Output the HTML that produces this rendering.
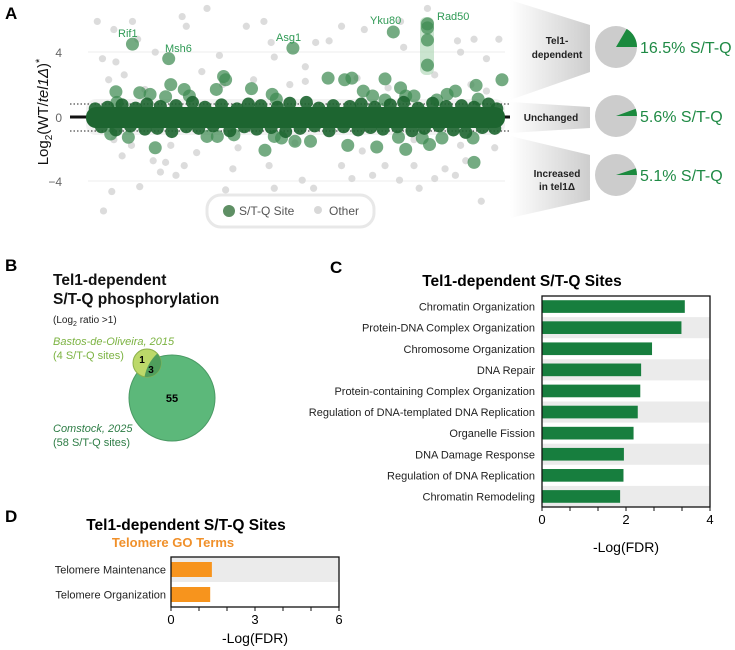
<!DOCTYPE html>
<html><head><meta charset="utf-8"><style>
body{margin:0;background:#fff;}
svg{display:block;font-family:"Liberation Sans",Arial,sans-serif;}
</style></head><body>
<svg id="fig" width="735" height="650" viewBox="0 0 735 650" xmlns="http://www.w3.org/2000/svg">
<defs>
<linearGradient id="fun" x1="0" x2="1" y1="0" y2="0"><stop offset="0" stop-color="#ffffff"/><stop offset="1" stop-color="#cdcdcd"/></linearGradient>
</defs>
<g>
<text x="5" y="19" font-size="17" font-weight="bold">A</text>
<line x1="88" x2="505" y1="52" y2="52" stroke="#eeeeee"/>
<line x1="88" x2="505" y1="181" y2="181" stroke="#eeeeee"/>
<g id="gray"></g>
<rect x="86" y="99" width="419" height="36" rx="10" fill="#e2e2e2" opacity="0.45"/>
<line x1="70" x2="510" y1="104" y2="104" stroke="#222" stroke-dasharray="1.5,2"/>
<line x1="70" x2="510" y1="131" y2="131" stroke="#222" stroke-dasharray="1.5,2"/>
<line x1="70" x2="510" y1="117" y2="117" stroke="#111" stroke-width="3"/>
<rect x="420" y="17" width="14" height="58" rx="6" fill="#a8d4b0" opacity="0.6"/>
<g id="green"></g>
<g id="core"></g>
<rect x="86" y="107" width="419" height="21" rx="10" fill="#1d6530"/>
<g font-size="11" fill="#2f9a55">
<text x="118" y="37">Rif1</text>
<text x="165" y="52">Msh6</text>
<text x="276" y="41">Asg1</text>
<text x="370" y="24">Yku80</text>
<text x="437" y="20">Rad50</text>
</g>
<g font-size="12" fill="#666" text-anchor="end">
<text x="62" y="57">4</text>
<text x="62" y="122">0</text>
<text x="62" y="186">−4</text>
</g>
<text transform="translate(48,112) rotate(-90)" text-anchor="middle" font-size="15" fill="#111">Log<tspan font-size="10" dy="4">2</tspan><tspan dy="-4">(WT/</tspan><tspan font-style="italic">tel1Δ</tspan>)<tspan font-size="11" dy="-5">*</tspan></text>
<rect x="207" y="195" width="167" height="32" rx="14" fill="#fff" stroke="#e8e8e8" stroke-width="3"/>
<circle cx="229" cy="211" r="6" fill="#5e8f64"/>
<text x="239" y="215" font-size="12" fill="#555">S/T-Q Site</text>
<circle cx="318" cy="210" r="4" fill="#d8d8d8"/>
<text x="329" y="215" font-size="12" fill="#555">Other</text>
<polygon points="510,0 590,25 590,72 510,100" fill="url(#fun)"/>
<polygon points="510,102 590,107 590,128 510,133" fill="url(#fun)"/>
<polygon points="510,136 590,155 590,200 510,218" fill="url(#fun)"/>
<g font-size="10" font-weight="bold" fill="#222" text-anchor="middle">
<text x="557" y="44">Tel1-</text>
<text x="557" y="58">dependent</text>
<text x="551" y="121">Unchanged</text>
<text x="557" y="177">Increased</text>
<text x="557" y="190">in tel1Δ</text>
</g>
<g id="pies"></g>
</g>
<g>
<text x="5" y="271" font-size="17" font-weight="bold">B</text>
<text x="53" y="285" font-size="15.5" font-weight="bold" fill="#111">Tel1-dependent</text>
<text x="53" y="304" font-size="15.5" font-weight="bold" fill="#111">S/T-Q phosphorylation</text>
<text x="53" y="323" font-size="10" fill="#222">(Log<tspan font-size="7" dy="3">2</tspan><tspan dy="-3"> ratio &gt;1)</tspan></text>
<text x="53" y="345" font-size="11" font-style="italic" fill="#7cb342">Bastos-de-Oliveira, 2015</text>
<text x="53" y="359" font-size="11" fill="#7cb342">(4 S/T-Q sites)</text>
<circle cx="172" cy="398" r="43" fill="#5cb87a" stroke="#4a9a64"/>
<circle cx="147" cy="363" r="14" fill="#bcd96a" stroke="#8cb04a"/>
<path d="M157.3,353.5 A14,14 0 0 1 144.5,376.8 A43,43 0 0 1 157.3,353.5 Z" fill="#4f9e5c"/>
<text x="142" y="363" font-size="10" font-weight="bold" text-anchor="middle">1</text>
<text x="151" y="373" font-size="10" font-weight="bold" text-anchor="middle">3</text>
<text x="172" y="402" font-size="11" font-weight="bold" text-anchor="middle">55</text>
<text x="53" y="432" font-size="11" font-style="italic" fill="#2e7d46">Comstock, 2025</text>
<text x="53" y="446" font-size="11" fill="#2e7d46">(58 S/T-Q sites)</text>
</g>
<g id="panelC">
<text x="330" y="273" font-size="17" font-weight="bold">C</text>
<text x="522" y="286" font-size="15.5" font-weight="bold" text-anchor="middle">Tel1-dependent S/T-Q Sites</text>
<text x="626" y="552" font-size="14" text-anchor="middle">-Log(FDR)</text>
</g>
<g id="panelD">
<text x="5" y="522" font-size="17" font-weight="bold">D</text>
<text x="186" y="530" font-size="15.5" font-weight="bold" text-anchor="middle">Tel1-dependent S/T-Q Sites</text>
<text x="173" y="547" font-size="13" font-weight="bold" fill="#f0902a" text-anchor="middle">Telomere GO Terms</text>
<text x="255" y="643" font-size="14" text-anchor="middle">-Log(FDR)</text>
</g>
</svg>
<script>
const otherRanks=[94,110,99,112,128,133,150,176,180,200,212,238,255,262,265,295,305,318,330,352,387,390,413,442,445,458,482,470,100,108,127,135,155,160,170,178,190,218,225,260,265,292,303,330,340,360,372,386,400,405,420,430,440,450,465,478,118,148,105,120,140,195,215,245,280,295,345,375,420,455,470,110,165,230,285,350,400,445];
const otherVals=[5.9,5.4,3.6,3.4,5.9,4.8,4.0,6.2,5.6,6.7,3.8,5.6,5.9,4.6,3.7,3.1,4.6,4.7,5.6,5.4,5.9,4.3,6.7,4.7,4.0,4.8,4.8,3.6,-5.8,-4.6,-1.75,-4.3,-3.4,-2.8,-3.6,-3.0,-2.2,-4.5,-3.2,-3.0,-4.4,-3.9,-4.4,-3.0,-3.8,-3.6,-3.0,-3.9,-3.0,-4.4,-3.8,-3.2,-3.6,-2.7,-5.2,-1.9,-2.4,-2.7,2.3,2.6,1.7,2.8,2.0,2.3,2.0,2.2,2.4,1.8,2.6,2.0,1.6,-1.4,-1.75,-1.9,-1.6,-2.1,-1.4,-1.75];
const stqRanks=[128,163,283,380,413,413,413,413,112,113,135,145,160,165,178,183,209,216,218,243,263,267,317,333,340,351,360,372,372,387,392,400,422,432,440,460,485,462,107,124,150,200,210,226,256,265,272,285,300,336,364,385,392,408,415,427,457,458];
const stqVals=[4.5,3.6,4.25,5.25,5.75,5.5,4.75,3.2,1.56,0.9,1.5,1.4,1.25,2.0,1.7,1.3,1.7,2.5,2.3,1.75,1.4,1.1,2.4,2.3,2.4,1.6,1.3,2.35,1.05,1.8,1.3,1.3,1.05,1.4,1.6,1.95,2.3,1.1,-1.05,-1.25,-1.9,-1.2,-1.2,-1.1,-2.05,-1.2,-1.3,-1.5,-1.5,-1.75,-1.85,-1.25,-2.0,-1.3,-1.7,-1.3,-1.3,-2.8];
const coreRanks=[92,104,118,131,142,155,170,186,198,214,229,240,252,268,280,296,308,322,338,349,362,377,390,404,418,431,446,458,472,480,98,112,126,140,152,166,180,192,206,222,236,248,262,276,290,304,318,332,346,358,370,384,398,410,424,438,450,466,478];
const coreVals=[0.5,0.6,0.75,0.55,0.8,0.65,0.7,0.9,0.6,0.75,0.5,0.8,0.7,0.6,0.85,0.9,0.55,0.7,0.65,0.8,0.6,0.75,0.9,0.55,0.85,0.65,0.7,0.6,0.8,0.5,-0.6,-0.8,-0.55,-0.75,-0.7,-0.9,-0.6,-0.7,-0.55,-0.85,-0.6,-0.75,-0.65,-0.9,-0.7,-0.55,-0.85,-0.6,-0.8,-0.65,-0.75,-0.6,-0.85,-0.7,-0.55,-0.8,-0.95,-0.65,-0.7];
const pieLabels=["16.5% S/T-Q","5.6% S/T-Q","5.1% S/T-Q"];
const pieFractions=[0.165,0.056,0.051];
const cCategories=["Chromatin Organization","Protein-DNA Complex Organization","Chromosome Organization","DNA Repair","Protein-containing Complex Organization","Regulation of DNA-templated DNA Replication","Organelle Fission","DNA Damage Response","Regulation of DNA Replication","Chromatin Remodeling"];
const cValues=[3.4,3.32,2.62,2.36,2.34,2.28,2.18,1.95,1.94,1.86];
const cTicks=[0,2,4];
const dCategories=["Telomere Maintenance","Telomere Organization"];
const dValues=[1.46,1.4];
const dTicks=[0,3,6];

const NS="http://www.w3.org/2000/svg";
function mk(tag,attrs,parent){const e=document.createElementNS(NS,tag);for(const k in attrs)e.setAttribute(k,attrs[k]);parent.appendChild(e);return e;}
const ax=r=>r*1.035, ay=v=>117-v*16.2;
const gG=document.getElementById('gray');
otherRanks.forEach((r,i)=>{const c=mk('circle',{cx:ax(r),cy:ay(otherVals[i]),r:3.6,fill:'#d6d6d6',opacity:0.85},gG);

});
const gS=document.getElementById('green');
stqRanks.forEach((r,i)=>{const c=mk('circle',{cx:ax(r),cy:ay(stqVals[i]),r:6.5,fill:'#3f8a52',opacity:0.72},gS);

});
const gC=document.getElementById('core');
coreRanks.forEach((r,i)=>{const c=mk('circle',{cx:ax(r),cy:ay(coreVals[i]),r:6.5,fill:'#1d6530',opacity:0.9},gC);

});
const pG=document.getElementById('pies');
const pieCy=[47,116,175];
pieFractions.forEach((f,i)=>{const cx=616,cy=pieCy[i],R=21;
const c=mk('circle',{cx:cx,cy:cy,r:R,fill:'#cccccc'},pG);


const a=f*2*Math.PI;
const p=mk('path',{d:`M${cx},${cy} L${cx+R},${cy} A${R},${R} 0 0 0 ${cx+R*Math.cos(a)},${cy-R*Math.sin(a)} Z`,fill:'#1b8a3e'},pG);


const t=mk('text',{x:640,y:cy+6,'font-size':16,fill:'#1f8a45'},pG);t.textContent=pieLabels[i];

});

function barChart(g,cats,vals,ticks,x0,x1,y0,y1,max,color,minorStep,labelX,shadeOdd){
 const n=cats.length,rh=(y1-y0)/n,sx=v=>x0+(v/max)*(x1-x0);
 cats.forEach((c,i)=>{const y=y0+i*rh;
  if((i%2===1)===shadeOdd){const s=mk('rect',{x:x0,y:y,width:x1-x0,height:rh,fill:'#ebebeb'},g);
   
   }
  const b=mk('rect',{x:x0,y:y+rh*0.2,width:sx(vals[i])-x0,height:rh*0.6,fill:color},g);
  
  
  const t=mk('text',{x:labelX,y:y+rh/2+4,'font-size':11,'text-anchor':'end',fill:'#222'},g);t.textContent=c;
  
  });
 const f=mk('rect',{x:x0,y:y0,width:x1-x0,height:y1-y0,fill:'none',stroke:'#111','stroke-width':1.3},g);
 
 
 for(let v=0;v<=max+1e-6;v+=minorStep){const l=mk('line',{x1:sx(v),x2:sx(v),y1:y1,y2:y1+4,stroke:'#111'},g);
  
  }
 ticks.forEach(v=>{const t=mk('text',{x:sx(v),y:y1+17,'font-size':13,'text-anchor':'middle'},g);t.textContent=v;
  
  });
}
barChart(document.getElementById('panelC'),cCategories,cValues,cTicks,542,710,296,507,4,'#177e3e',2/3,535,true);
barChart(document.getElementById('panelD'),dCategories,dValues,dTicks,171,339,557,607,6,'#f7941d',1,166,false);
</script>
</body></html>
